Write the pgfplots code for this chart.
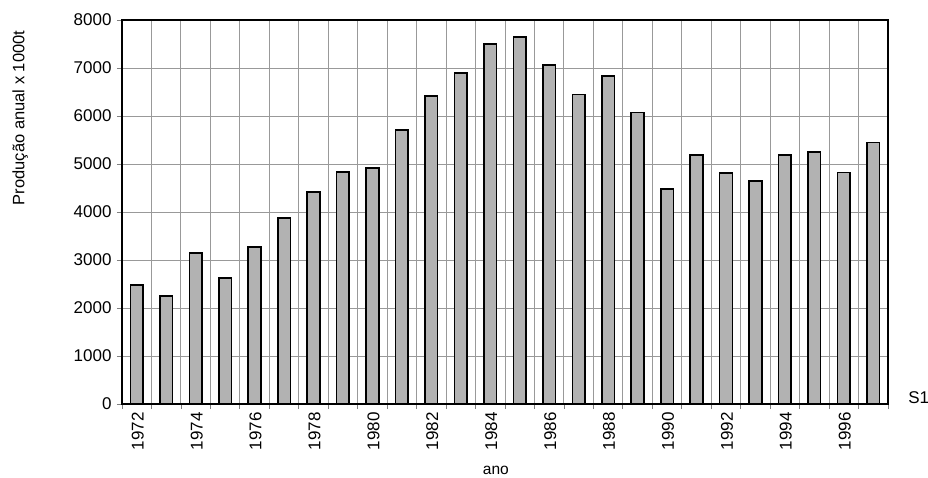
\documentclass[border=0pt]{standalone}
\usepackage{fontspec}
\setmainfont{Liberation Sans}
\usepackage{pgfplots}
\pgfplotsset{compat=1.18}
\begin{document}
\begin{tikzpicture}[x=1pt,y=1pt]
\useasboundingbox (0,0) rectangle (928,477);
\begin{axis}[
  at={(122pt,73pt)}, anchor=south west,
  scale only axis, width=766pt, height=384pt,
  xmin=-0.5, xmax=25.5, ymin=0, ymax=8000,
  ytick={0,1000,...,8000},
  xtick={0,2,...,24},
  xticklabels={1972,1974,1976,1978,1980,1982,1984,1986,1988,1990,1992,1994,1996},
  minor xtick={-0.5,0.5,...,25.5},
  xminorgrids=true, ymajorgrids=true, xmajorgrids=false,
  grid style={draw=gray!80, line width=0.9pt},
  minor grid style={draw=gray!80, line width=0.9pt},
  major x tick style={draw=none},
  minor x tick style={draw=gray, line width=0.8pt},
  y tick style={draw=gray, line width=0.8pt},
  tick align=outside, major tick length=5pt, minor tick length=5pt,
  xtick pos=bottom, ytick pos=left,
  axis line style={black, line width=1.2pt},
  /pgf/number format/assume math mode=true,
  /pgf/number format/1000 sep={},
  tick label style={font=\fontsize{17}{19}\selectfont},
  x tick label style={rotate=90, anchor=east, yshift=-1pt},
  scaled y ticks=false,
  yticklabel style={xshift=-2pt},
  xlabel={ano},
  xlabel style={font=\fontsize{15.5}{17}\selectfont, at={(axis description cs:0.488,-0.172)}, anchor=center},
  clip=false,
]
\addplot[ybar, bar width=0.43, fill=gray!60, draw=black, line width=1.6pt] coordinates {
(0,2480) (1,2250) (2,3150) (3,2625) (4,3270) (5,3875) (6,4420) (7,4833)
(8,4917) (9,5708) (10,6417) (11,6896) (12,7500) (13,7646) (14,7062)
(15,6450) (16,6833) (17,6070) (18,4479) (19,5187) (20,4812) (21,4650)
(22,5187) (23,5250) (24,4820) (25,5445)
};
\draw[black, line width=2.4pt] (rel axis cs:0,0) -- (rel axis cs:0,1);
\draw[black, line width=2.4pt] (rel axis cs:0,0) -- (rel axis cs:1,0);
\node[rotate=90, font=\fontsize{16.5}{18}\selectfont] at (axis description cs:-0.133,0.745) {Produção anual x 1000t};
\node[font=\fontsize{17}{19}\selectfont] at (axis description cs:1.040,0.016) {S1};
\end{axis}
\end{tikzpicture}
\end{document}
